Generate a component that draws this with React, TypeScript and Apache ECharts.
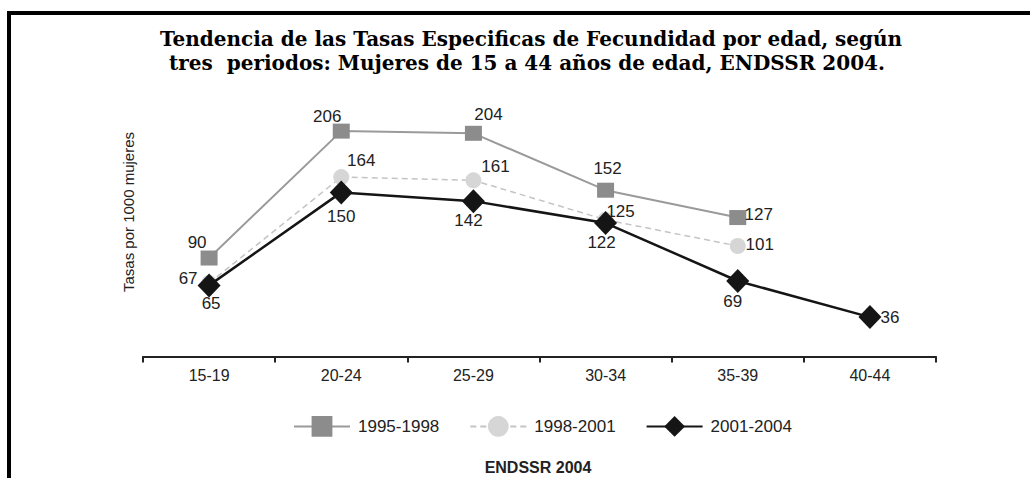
import React, { useEffect, useRef } from "react";
import * as echarts from "echarts";

const categories = ["15-19", "20-24", "25-29", "30-34", "35-39", "40-44"];
const seriesNames = ["1995-1998", "1998-2001", "2001-2004"];
const values1995 = [90, 206, 204, 152, 127, null];
const values1998 = [67, 164, 161, 125, 101, null];
const values2001 = [65, 150, 142, 122, 69, 36];

const titleLines = [
  "Tendencia de las Tasas Especificas de Fecundidad por edad, según",
  "tres  periodos: Mujeres de 15 a 44 años de edad, ENDSSR 2004.",
];
const yAxisName = "Tasas por 1000 mujeres";
const sourceText = "ENDSSR 2004";

// label placement offsets (style only)
const offsets1995 = [[-12, -16], [-14, -15], [15, -19], [2, -22], [21, -3], [0, 0]];
const offsets1998 = [[-21, -5], [20, -17], [22, -14], [15, -8], [22, -1], [0, 0]];
const offsets2001 = [[2, 18], [0, 24], [-5, 19], [-4, 19], [-5, 20], [20, 0]];

const FONT = "'Liberation Sans', Arial, sans-serif";

function withLabels(vals: (number | null)[], offs: number[][]) {
  return vals.map((v, i) =>
    v == null
      ? null
      : {
          value: v,
          label: {
            show: true,
            position: "inside",
            offset: offs[i],
            align: "center",
            verticalAlign: "middle",
          },
        }
  );
}

export default function App() {
  const ref = useRef<HTMLDivElement>(null);
  useEffect(() => {
    if (!ref.current) return;
    const chart = echarts.init(ref.current, undefined, { renderer: "svg" });
    const labelStyle = {
      color: "#222",
      fontSize: 17,
      fontFamily: FONT,
      formatter: "{c}",
    };
    chart.setOption({
      animation: false,
      backgroundColor: "#fff",
      grid: { left: 143, right: 94, top: 115.8, bottom: 121.5 },
      xAxis: {
        type: "category",
        data: categories,
        boundaryGap: true,
        axisLine: { show: true, lineStyle: { color: "#222", width: 2 } },
        axisTick: { show: true, length: 6, lineStyle: { color: "#222", width: 2 } },
        axisLabel: { color: "#222", fontSize: 16, fontFamily: FONT, margin: 11 },
      },
      yAxis: {
        type: "value",
        min: 0,
        max: 220,
        show: false,
        splitLine: { show: false },
      },
      legend: {
        left: 288,
        top: 411,
        itemWidth: 56,
        itemHeight: 26,
        itemGap: 30,
        textStyle: { color: "#222", fontSize: 17, fontFamily: FONT, padding: [0, 0, 0, 3] },
        data: seriesNames,
      },
      series: [
        {
          name: seriesNames[0],
          type: "line",
          data: withLabels(values1995, offsets1995),
          symbol: "rect",
          symbolSize: [17, 15],
          lineStyle: { color: "#9a9a9a", width: 2 },
          itemStyle: { color: "#8c8c8c" },
          label: labelStyle,
          z: 2,
        },
        {
          name: seriesNames[1],
          type: "line",
          data: withLabels(values1998, offsets1998),
          symbol: "circle",
          symbolSize: 16,
          lineStyle: { color: "#c4c4c4", width: 1.5, type: [6, 4] },
          itemStyle: { color: "#d6d6d6" },
          label: labelStyle,
          z: 3,
        },
        {
          name: seriesNames[2],
          type: "line",
          data: withLabels(values2001, offsets2001),
          symbol: "diamond",
          symbolSize: [23, 24],
          lineStyle: { color: "#151515", width: 2.5 },
          itemStyle: { color: "#151515" },
          label: labelStyle,
          z: 4,
        },
      ],
      graphic: [
        {
          type: "line",
          shape: { x1: 7, y1: 13, x2: 1030, y2: 13 },
          style: { stroke: "#000", lineWidth: 4 },
        },
        {
          type: "line",
          shape: { x1: 9, y1: 11, x2: 9, y2: 478 },
          style: { stroke: "#000", lineWidth: 4 },
        },
        {
          type: "text",
          x: 531,
          y: 39,
          style: {
            text: titleLines[0],
            fill: "#000",
            font: "bold 20px 'DejaVu Serif', serif",
            textAlign: "center",
            textVerticalAlign: "middle",
          },
        },
        {
          type: "text",
          x: 527,
          y: 63,
          style: {
            text: titleLines[1],
            fill: "#000",
            font: "bold 20px 'DejaVu Serif', serif",
            textAlign: "center",
            textVerticalAlign: "middle",
          },
        },
        {
          type: "text",
          x: 128,
          y: 212,
          rotation: Math.PI / 2,
          style: {
            text: yAxisName,
            fill: "#222",
            font: "15px 'Liberation Sans', Arial, sans-serif",
            textAlign: "center",
            textVerticalAlign: "middle",
          },
        },
        {
          type: "text",
          x: 538,
          y: 467,
          style: {
            text: sourceText,
            fill: "#222",
            font: "bold 16px 'Liberation Sans', Arial, sans-serif",
            textAlign: "center",
            textVerticalAlign: "middle",
          },
        },
      ],
    });
    return () => chart.dispose();
  }, []);
  return (
    <div
      ref={ref}
      style={{ position: "fixed", left: 0, top: 0, width: 1030, height: 478, background: "#fff" }}
    />
  );
}
